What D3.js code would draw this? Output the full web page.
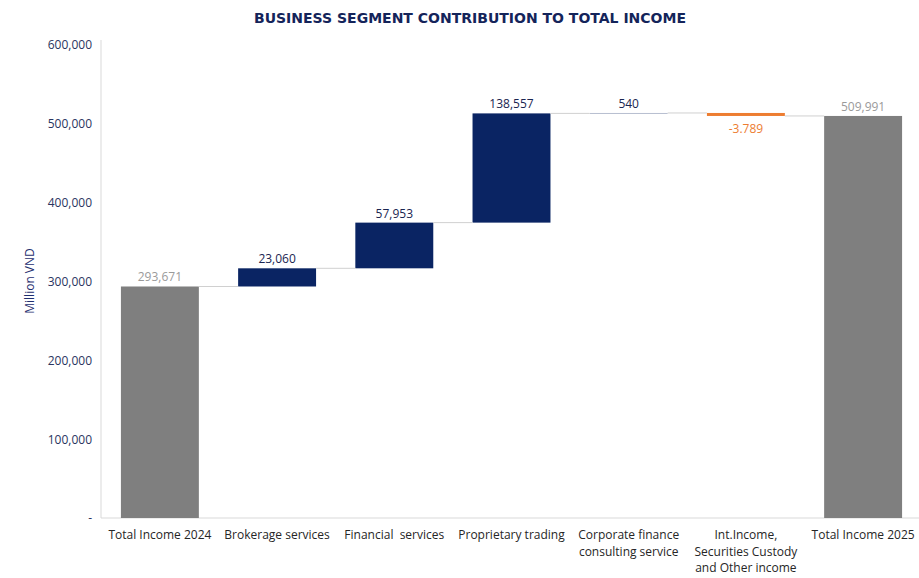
<html>
<head>
<title>Business Segment Contribution</title>
<script src="https://cdn.jsdelivr.net/npm/d3@7"></script>
<style>
  body { margin: 0; background: #fff; }
  text { font-family: "Open Sans", "Noto Sans", sans-serif; }
</style>
</head>
<body>
<script>
// chart data
var categories = ["Total Income 2024", "Brokerage services", "Financial  services", "Proprietary trading",
                  "Corporate finance|consulting service", "Int.Income,|Securities Custody|and Other income", "Total Income 2025"];
var values = [293671, 23060, 57953, 138557, 540, -3789, 509991];
var kinds = ["total", "up", "up", "up", "up", "down", "total"];
var yTicks = [0, 100000, 200000, 300000, 400000, 500000, 600000];

var W = 919, H = 578;
var margin = {top: 45, right: 0, bottom: 60, left: 101};
var colors = {total: "#7f7f7f", up: "#0a2463", down: "#ed7d31"};
var labelColors = {total: "#9a9a9a", up: "#1a2550", down: "#ed7d31"};

// running totals for waterfall
var run = 0;
var rows = values.map(function(v, i) {
  var r;
  if (kinds[i] == "total") { r = {y0: 0, y1: v}; run = v; }
  else { r = {y0: run, y1: run + v}; run += v; }
  r.v = v; r.kind = kinds[i]; r.cat = categories[i];
  return r;
});

var svg = d3.select("body").append("svg").attr("width", W).attr("height", H);

var x = d3.scaleBand().domain(categories).range([margin.left, 922]).paddingInner(0.335).paddingOuter(0.17);
var y = d3.scaleLinear().domain([0, 600000]).range([518, 45]);

// title
svg.append("text").attr("x", 470).attr("y", 23).attr("text-anchor", "middle")
  .style("font-family", "'DejaVu Sans', sans-serif").style("font-weight", "bold").style("font-size", "14px")
  .style("fill", "#14245a").text("BUSINESS SEGMENT CONTRIBUTION TO TOTAL INCOME");

// y axis
var yAxis = d3.axisLeft(y).tickValues(yTicks).tickSize(0).tickPadding(9)
  .tickFormat(function(d) { return d == 0 ? "-" : d3.format(",")(d); });
var gy = svg.append("g").attr("transform", "translate(" + margin.left + ",0)").call(yAxis);
gy.select(".domain").attr("stroke", "#d9d9d9").attr("d", "M0,40V518");
gy.selectAll("text").style("font-size", "12px").style("fill", "#2a3560");

svg.append("text").attr("transform", "translate(34,281)rotate(-90)").attr("text-anchor", "middle")
  .style("font-size", "12px").style("fill", "#1f2f70").text("Million VND");

// x axis line
svg.append("line").attr("x1", margin.left).attr("x2", W).attr("y1", 518).attr("y2", 518)
  .attr("stroke", "#d9d9d9");

// bars
svg.selectAll("rect.bar").data(rows).enter().append("rect").attr("class", "bar")
  .attr("x", function(d) { return x(d.cat); })
  .attr("width", x.bandwidth())
  .attr("y", function(d) { return y(Math.max(d.y0, d.y1)); })
  .attr("height", function(d) { return Math.max(Math.abs(y(d.y0) - y(d.y1)), d.kind == "down" ? 3 : 1); })
  .attr("fill", function(d) { return d.cat.indexOf("Corporate") == 0 ? "#b8bfd0" : colors[d.kind]; });

// connectors
svg.selectAll("line.conn").data(rows.slice(0, -1)).enter().append("line").attr("class", "conn")
  .attr("x1", function(d) { return x(d.cat) + x.bandwidth(); })
  .attr("x2", function(d, i) { return x(categories[i + 1]); })
  .attr("y1", function(d) { return y(d.y1); })
  .attr("y2", function(d) { return y(d.y1); })
  .attr("stroke", "#d0d0d0").attr("stroke-width", 1);

// value labels
svg.selectAll("text.val").data(rows).enter().append("text").attr("class", "val")
  .attr("x", function(d) { return x(d.cat) + x.bandwidth() / 2; })
  .attr("y", function(d) { return d.kind == "down" ? y(d.y1) + 17 : y(Math.max(d.y0, d.y1)) - 5; })
  .attr("text-anchor", "middle").style("font-size", "12px")
  .style("fill", function(d) { return labelColors[d.kind]; })
  .text(function(d) { return d.kind == "down" ? "-" + d3.format(",")(-d.v).replace(",", ".") : d3.format(",")(d.v); });

// category labels
svg.selectAll("text.cat").data(categories).enter().append("text").attr("class", "cat")
  .attr("x", function(d) { return x(d) + x.bandwidth() / 2; })
  .attr("y", 539).attr("text-anchor", "middle").style("font-size", "12px").style("fill", "#262626")
  .style("white-space", "pre")
  .each(function(d) {
    var t = d3.select(this);
    d.split("|").forEach(function(s, i) {
      t.append("tspan").attr("x", x(d) + x.bandwidth() / 2).attr("dy", i == 0 ? 0 : 16.5).text(s);
    });
  });
</script>
</body>
</html>
